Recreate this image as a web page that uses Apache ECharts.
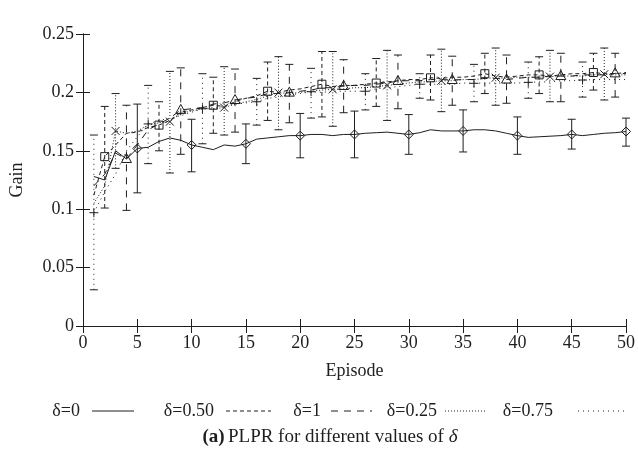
<!DOCTYPE html>
<html>
<head>
<meta charset="utf-8">
<script src="https://cdn.jsdelivr.net/npm/echarts@6/dist/echarts.min.js"></script>
<style>
  html, body { margin: 0; padding: 0; background: #fff; }
  #chart { width: 638px; height: 456px; }
</style>
</head>
<body>
<div id="chart"></div>
<script>
// Episodes on the x axis
const episodes = [1, 2, 3, 4, 5, 6, 7, 8, 9, 10, 11, 12, 13, 14, 15, 16, 17, 18, 19, 20,
  21, 22, 23, 24, 25, 26, 27, 28, 29, 30, 31, 32, 33, 34, 35, 36, 37, 38, 39, 40,
  41, 42, 43, 44, 45, 46, 47, 48, 49, 50];

// Mean gain per episode for each delta
const gainD0 = [0.128, 0.125, 0.150, 0.143, 0.152, 0.153, 0.158, 0.161, 0.159, 0.155,
  0.153, 0.151, 0.155, 0.154, 0.156, 0.160, 0.161, 0.162, 0.163, 0.163,
  0.164, 0.164, 0.163, 0.164, 0.164, 0.165, 0.1655, 0.166, 0.165, 0.164,
  0.1655, 0.168, 0.167, 0.167, 0.167, 0.168, 0.168, 0.167, 0.165, 0.163,
  0.1615, 0.162, 0.1625, 0.163, 0.164, 0.163, 0.164, 0.165, 0.1655, 0.1665];
const gainD050 = [0.112, 0.145, 0.155, 0.165, 0.166, 0.170, 0.172, 0.176, 0.183, 0.185,
  0.187, 0.189, 0.188, 0.192, 0.195, 0.197, 0.201, 0.200, 0.202, 0.203,
  0.205, 0.207, 0.205, 0.206, 0.206, 0.207, 0.208, 0.209, 0.210, 0.211,
  0.211, 0.2125, 0.212, 0.213, 0.213, 0.214, 0.216, 0.214, 0.213, 0.214,
  0.215, 0.215, 0.214, 0.215, 0.216, 0.216, 0.217, 0.216, 0.216, 0.217];
const gainD1 = [0.120, 0.130, 0.148, 0.143, 0.155, 0.168, 0.173, 0.178, 0.185, 0.186,
  0.187, 0.190, 0.191, 0.1935, 0.195, 0.196, 0.199, 0.199, 0.1998, 0.201,
  0.202, 0.204, 0.204, 0.2055, 0.206, 0.206, 0.207, 0.208, 0.2098, 0.210,
  0.210, 0.211, 0.211, 0.2106, 0.211, 0.211, 0.212, 0.212, 0.211, 0.212,
  0.213, 0.213, 0.214, 0.214, 0.214, 0.215, 0.215, 0.215, 0.2163, 0.216];
const gainD025 = [0.105, 0.120, 0.167, 0.165, 0.167, 0.172, 0.174, 0.175, 0.182, 0.184,
  0.186, 0.186, 0.187, 0.190, 0.192, 0.194, 0.197, 0.1998, 0.199, 0.200,
  0.201, 0.202, 0.2026, 0.203, 0.204, 0.204, 0.205, 0.206, 0.207, 0.208,
  0.209, 0.209, 0.210, 0.210, 0.211, 0.211, 0.212, 0.2126, 0.212, 0.213,
  0.213, 0.213, 0.2135, 0.214, 0.214, 0.214, 0.215, 0.2155, 0.215, 0.215];
const gainD075 = [0.097, 0.115, 0.130, 0.150, 0.162, 0.173, 0.176, 0.178, 0.180, 0.183,
  0.186, 0.187, 0.188, 0.190, 0.191, 0.192, 0.195, 0.196, 0.198, 0.199,
  0.2006, 0.200, 0.201, 0.201, 0.201, 0.201, 0.203, 0.204, 0.205, 0.206,
  0.207, 0.207, 0.207, 0.207, 0.208, 0.2078, 0.208, 0.208, 0.208, 0.208,
  0.2086, 0.209, 0.209, 0.210, 0.210, 0.2106, 0.211, 0.211, 0.211, 0.211];

// Error bars: episode, lower and upper bound
const barEpD0 = [5, 10, 15, 20, 25, 30, 35, 40, 45, 50];
const lowD0 = [0.114, 0.132, 0.139, 0.144, 0.144, 0.147, 0.149, 0.147, 0.1515, 0.154];
const highD0 = [0.190, 0.177, 0.173, 0.182, 0.184, 0.181, 0.185, 0.179, 0.177, 0.178];

const barEpD050 = [2, 7, 12, 17, 22, 27, 32, 37, 42, 47];
const lowD050 = [0.101, 0.150, 0.165, 0.176, 0.179, 0.188, 0.1935, 0.199, 0.199, 0.202];
const highD050 = [0.188, 0.192, 0.213, 0.226, 0.235, 0.229, 0.232, 0.2335, 0.2305, 0.2335];

const barEpD1 = [4, 9, 14, 19, 24, 29, 34, 39, 44, 49];
const lowD1 = [0.099, 0.147, 0.166, 0.174, 0.1826, 0.186, 0.189, 0.1907, 0.192, 0.196];
const highD1 = [0.189, 0.221, 0.220, 0.224, 0.228, 0.232, 0.231, 0.232, 0.2335, 0.2335];

const barEpD025 = [3, 8, 13, 18, 23, 28, 33, 38, 43, 48];
const lowD025 = [0.135, 0.131, 0.1635, 0.168, 0.171, 0.176, 0.1835, 0.189, 0.192, 0.1935];
const highD025 = [0.199, 0.218, 0.222, 0.2306, 0.235, 0.236, 0.237, 0.238, 0.236, 0.238];

const barEpD075 = [1, 6, 11, 16, 21, 26, 31, 36, 41, 46];
const lowD075 = [0.031, 0.139, 0.156, 0.172, 0.178, 0.185, 0.195, 0.192, 0.195, 0.196];
const highD075 = [0.1635, 0.206, 0.216, 0.212, 0.2206, 0.216, 0.216, 0.224, 0.226, 0.226];

// Axis ticks
const xTicks = [0, 5, 10, 15, 20, 25, 30, 35, 40, 45, 50];
const yTicks = [0, 0.05, 0.1, 0.15, 0.2, 0.25];

const INK = '#1e1e1e';
const SERIF = '"Liberation Serif", "DejaVu Serif", serif';
const FS = 18;

const seriesDefs = [
  { name: 'δ=0', values: gainD0, ep: barEpD0, lo: lowD0, hi: highD0, dash: 'solid', marker: 'diamond' },
  { name: 'δ=0.50', values: gainD050, ep: barEpD050, lo: lowD050, hi: highD050, dash: [4, 3], marker: 'square' },
  { name: 'δ=1', values: gainD1, ep: barEpD1, lo: lowD1, hi: highD1, dash: [7, 6], marker: 'triangle' },
  { name: 'δ=0.25', values: gainD025, ep: barEpD025, lo: lowD025, hi: highD025, dash: [1, 2], marker: 'cross' },
  { name: 'δ=0.75', values: gainD075, ep: barEpD075, lo: lowD075, hi: highD075, dash: [1, 4], marker: 'plus' }
];

function markerShape(kind, cx, cy) {
  const st = { stroke: INK, fill: 'none', lineWidth: 1 };
  if (kind === 'diamond') {
    return { type: 'polygon', shape: { points: [[cx, cy - 4.5], [cx + 4.5, cy], [cx, cy + 4.5], [cx - 4.5, cy]] }, style: st };
  }
  if (kind === 'square') {
    return { type: 'rect', shape: { x: cx - 4, y: cy - 4, width: 8, height: 8 }, style: st };
  }
  if (kind === 'triangle') {
    return { type: 'polygon', shape: { points: [[cx, cy - 5.5], [cx + 5, cy + 3.5], [cx - 5, cy + 3.5]] }, style: st };
  }
  if (kind === 'cross') {
    return { type: 'group', children: [
      { type: 'line', shape: { x1: cx - 4, y1: cy - 4, x2: cx + 4, y2: cy + 4 }, style: st },
      { type: 'line', shape: { x1: cx - 4, y1: cy + 4, x2: cx + 4, y2: cy - 4 }, style: st }
    ] };
  }
  return { type: 'group', children: [
    { type: 'line', shape: { x1: cx - 4.5, y1: cy, x2: cx + 4.5, y2: cy }, style: st },
    { type: 'line', shape: { x1: cx, y1: cy - 4.5, x2: cx, y2: cy + 4.5 }, style: st }
  ] };
}

const series = [];
seriesDefs.forEach(function (d) {
  series.push({
    name: d.name,
    type: 'line',
    data: episodes.map(function (e, i) { return [e, d.values[i]]; }),
    symbol: 'none',
    lineStyle: { color: INK, width: 1, type: d.dash },
    itemStyle: { color: INK },
    z: 2
  });
  const barData = d.ep.map(function (e, i) {
    return [e, d.values[episodes.indexOf(e)], d.lo[i], d.hi[i]];
  });
  const lineDash = d.dash === 'solid' ? null : d.dash;
  series.push({
    name: d.name + ' bars',
    type: 'custom',
    data: barData,
    encode: { x: 0, y: 1 },
    z: 3,
    renderItem: function (params, api) {
      const c = api.coord([api.value(0), api.value(1)]);
      const lo = api.coord([api.value(0), api.value(2)]);
      const hi = api.coord([api.value(0), api.value(3)]);
      const barStyle = { stroke: INK, lineWidth: 1, lineDash: lineDash };
      const capStyle = { stroke: INK, lineWidth: 1 };
      return {
        type: 'group',
        children: [
          { type: 'line', shape: { x1: c[0], y1: lo[1], x2: c[0], y2: hi[1] }, style: barStyle },
          { type: 'line', shape: { x1: c[0] - 4, y1: lo[1], x2: c[0] + 4, y2: lo[1] }, style: capStyle },
          { type: 'line', shape: { x1: c[0] - 4, y1: hi[1], x2: c[0] + 4, y2: hi[1] }, style: capStyle },
          markerShape(d.marker, c[0], c[1])
        ]
      };
    }
  });
});

// Key: label followed by a line sample
const keyItems = [
  { text: 'δ=0', right: 80, x1: 92, x2: 134, dash: null },
  { text: 'δ=0.50', right: 214, x1: 226, x2: 271, dash: [4, 3] },
  { text: 'δ=1', right: 321, x1: 331, x2: 372, dash: [7, 6] },
  { text: 'δ=0.25', right: 437, x1: 445, x2: 487, dash: [1, 2] },
  { text: 'δ=0.75', right: 553, x1: 578, x2: 624, dash: [1, 4] }
];
const keyY = 411;
const graphics = [];
keyItems.forEach(function (k) {
  graphics.push({
    type: 'text',
    style: { x: k.right, y: keyY, text: k.text, align: 'right', verticalAlign: 'middle',
      font: FS + 'px ' + SERIF, fill: INK }
  });
  graphics.push({
    type: 'line',
    shape: { x1: k.x1, y1: keyY, x2: k.x2, y2: keyY },
    style: { stroke: INK, lineWidth: 1, lineDash: k.dash }
  });
});
graphics.push({
  type: 'text',
  style: {
    x: 330, y: 437, align: 'center', verticalAlign: 'middle',
    text: '{b|(a)} {n|PLPR for different values of }{i|δ}',
    rich: {
      b: { font: 'bold 19px ' + SERIF, fill: INK },
      n: { font: '19px ' + SERIF, fill: INK },
      i: { font: 'italic 19px ' + SERIF, fill: INK }
    }
  }
});

const axisCommon = {
  axisLine: { show: true, lineStyle: { color: INK, width: 1 } },
  axisTick: { show: true, inside: true, length: 7, lineStyle: { color: INK } },
  splitLine: { show: false }
};

const chart = echarts.init(document.getElementById('chart'), null, { renderer: 'canvas' });
chart.setOption({
  animation: false,
  backgroundColor: '#fff',
  grid: { left: 81, right: 6, top: 34, bottom: 130 },
  xAxis: [
    Object.assign({
      type: 'value', min: xTicks[0], max: xTicks[xTicks.length - 1], interval: 5,
      name: 'Episode', nameLocation: 'middle', nameGap: 36,
      nameTextStyle: { fontFamily: SERIF, fontSize: FS, color: INK },
      axisLabel: { fontFamily: SERIF, fontSize: FS, color: INK, margin: 8 }
    }, axisCommon),
    Object.assign({
      type: 'value', position: 'top', min: xTicks[0], max: xTicks[xTicks.length - 1], interval: 5,
      axisLabel: { show: false }
    }, axisCommon)
  ],
  yAxis: [
    Object.assign({
      type: 'value', min: yTicks[0], max: yTicks[yTicks.length - 1], interval: 0.05,
      name: 'Gain', nameLocation: 'middle', nameGap: 57, nameRotate: 90,
      nameTextStyle: { fontFamily: SERIF, fontSize: FS, color: INK },
      axisLabel: { fontFamily: SERIF, fontSize: FS, color: INK, margin: 9,
        formatter: function (v) { return String(+v.toFixed(2)); } }
    }, axisCommon),
    Object.assign({
      type: 'value', position: 'right', min: yTicks[0], max: yTicks[yTicks.length - 1], interval: 0.05,
      axisLabel: { show: false }
    }, axisCommon)
  ],
  series: series,
  graphic: graphics
});
</script>
</body>
</html>
